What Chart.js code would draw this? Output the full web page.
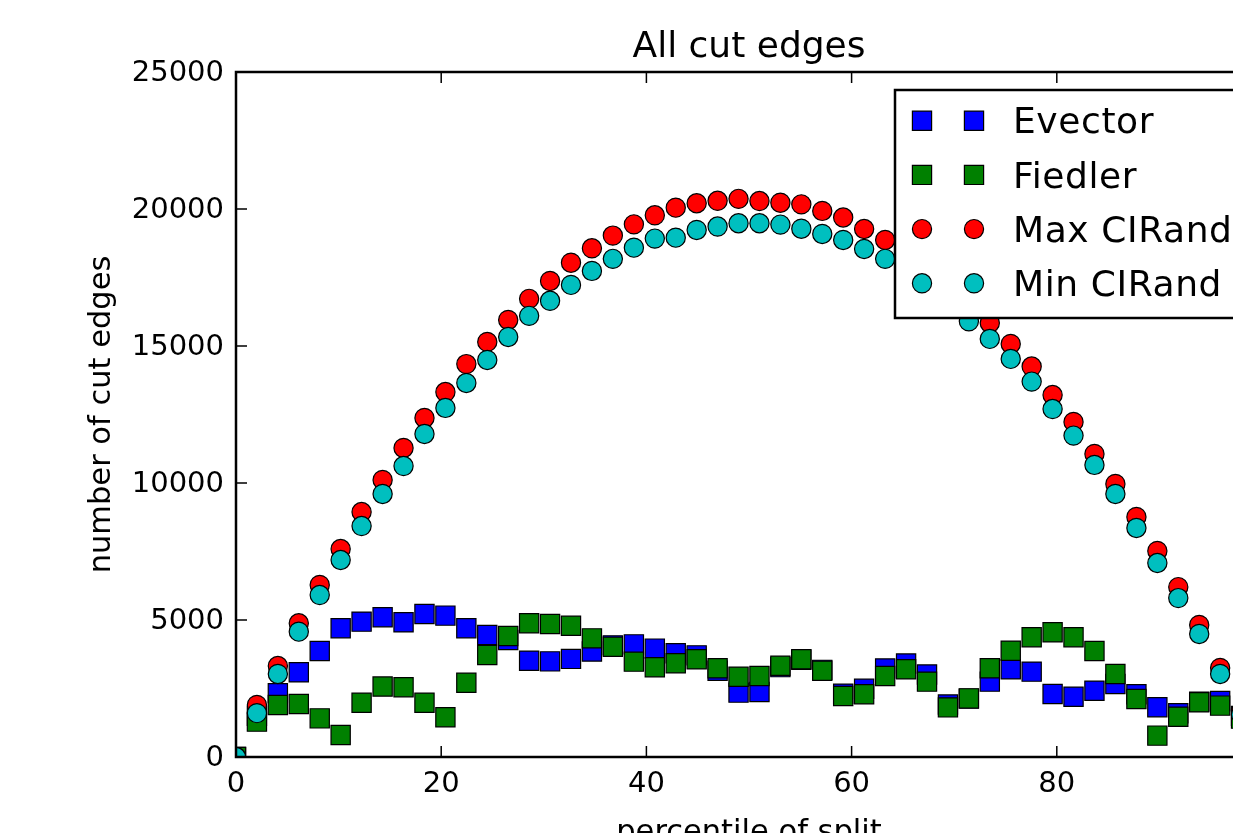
<!DOCTYPE html>
<html>
<head>
<meta charset="utf-8">
<title>All cut edges</title>
<script src="https://cdn.jsdelivr.net/npm/chart.js@4.4.1/dist/chart.umd.min.js"></script>
<style>
  html, body { margin: 0; padding: 0; background: #fff; overflow: hidden; }
  #wrap { width: 1300px; height: 860px; }
</style>
</head>
<body>
<div id="wrap"><canvas id="cut-edges-chart" width="1300" height="860"></canvas></div>
<script>
// percentile of split (50 splits from 0 to 100)
const percentiles = [0, 2.04, 4.08, 6.12, 8.16, 10.2, 12.24, 14.29, 16.33, 18.37,
    20.41, 22.45, 24.49, 26.53, 28.57, 30.61, 32.65, 34.69, 36.73, 38.78,
    40.82, 42.86, 44.9, 46.94, 48.98, 51.02, 53.06, 55.1, 57.14, 59.18,
    61.22, 63.27, 65.31, 67.35, 69.39, 71.43, 73.47, 75.51, 77.55, 79.59,
    81.63, 83.67, 85.71, 87.76, 89.8, 91.84, 93.88, 95.92, 97.96, 100];

const evector = [0, 1500, 2330, 3090, 3870, 4700, 4940, 5100, 4915, 5220,
    5160, 4700, 4450, 4270, 3515, 3490, 3580, 3850, 4075, 4110,
    3955, 3785, 3710, 3150, 2350, 2370, 3280, 3550, 3180, 2310,
    2490, 3230, 3410, 3010, 1915, 2130, 2750, 3200, 3115, 2300,
    2200, 2420, 2665, 2290, 1815, 1600, 2020, 2045, 1500, 0];

const fiedler = [0, 1290, 1900, 1935, 1410, 800, 1980, 2570, 2545, 1980,
    1450, 2710, 3720, 4415, 4880, 4855, 4790, 4330, 4025, 3480,
    3275, 3420, 3565, 3240, 2930, 2955, 3330, 3565, 3150, 2225,
    2290, 2955, 3200, 2750, 1810, 2140, 3240, 3880, 4370, 4550,
    4370, 3870, 3030, 2120, 780, 1470, 2000, 1875, 1400, 0];

const maxCIRand = [0, 1900, 3320, 4880, 6280, 7590, 8940, 10110, 11280, 12375,
    13320, 14340, 15150, 15950, 16720, 17375, 18040, 18565, 19030, 19440,
    19770, 20050, 20210, 20300, 20370, 20290, 20230, 20170, 19930, 19690,
    19270, 18870, 18400, 17900, 17250, 16550, 15840, 15075, 14250, 13210,
    12230, 11060, 9965, 8760, 7520, 6200, 4820, 3250, 1650, 0];

const minCIRand = [0, 1600, 3030, 4575, 5910, 7190, 8430, 9600, 10620, 11790,
    12740, 13650, 14490, 15330, 16100, 16650, 17230, 17740, 18180, 18590,
    18920, 18955, 19235, 19360, 19480, 19480, 19430, 19280, 19090, 18870,
    18540, 18180, 17650, 17100, 16500, 15900, 15260, 14530, 13700, 12700,
    11730, 10660, 9600, 8360, 7080, 5800, 4490, 3030, 1550, 0];

const xTicks = [0, 20, 40, 60, 80, 100];
const yTicks = [0, 5000, 10000, 15000, 20000, 25000];

Chart.defaults.font.family = "'DejaVu Sans', sans-serif";
Chart.defaults.color = '#000';

function toPoints(values) {
    return values.map((v, i) => ({ x: percentiles[i], y: v }));
}

// marcas hacia dentro y marco del eje (estilo matplotlib)
const frameAndTicks = {
    id: 'frameAndTicks',
    afterDatasetsDraw(chart) {
        const { ctx, chartArea: a, scales: { x, y } } = chart;
        ctx.save();
        ctx.strokeStyle = '#000';
        ctx.lineWidth = 1.5;
        ctx.beginPath();
        x.ticks.forEach(t => {
            const px = x.getPixelForValue(t.value);
            ctx.moveTo(px, a.bottom); ctx.lineTo(px, a.bottom - 11);
            ctx.moveTo(px, a.top); ctx.lineTo(px, a.top + 11);
        });
        y.ticks.forEach(t => {
            const py = y.getPixelForValue(t.value);
            ctx.moveTo(a.left, py); ctx.lineTo(a.left + 11, py);
            ctx.moveTo(a.right, py); ctx.lineTo(a.right - 11, py);
        });
        ctx.stroke();
        ctx.lineWidth = 2.5;
        ctx.strokeRect(a.left, a.top, a.right - a.left, a.bottom - a.top);
        ctx.restore();
    }
};

// leyenda con dos marcadores por entrada
const pairLegend = {
    id: 'pairLegend',
    afterDraw(chart) {
        const { ctx, chartArea: a } = chart;
        const left = a.right - 367, top = a.top + 18;
        const right = a.right - 17, bottom = top + 228;
        ctx.save();
        ctx.fillStyle = '#fff';
        ctx.fillRect(left, top, right - left, bottom - top);
        ctx.strokeStyle = '#000';
        ctx.lineWidth = 2.5;
        ctx.strokeRect(left, top, right - left, bottom - top);

        const items = chart.data.datasets.slice().sort((p, q) => q.order - p.order);
        items.forEach((ds, k) => {
            const cy = top + 30.7 + k * 54.2;
            [left + 27, left + 79].forEach(cx => {
                ctx.beginPath();
                if (ds.pointStyle === 'rect') {
                    ctx.rect(cx - 9.6, cy - 9.6, 19.2, 19.2);
                } else {
                    ctx.arc(cx, cy, 9.6, 0, Math.PI * 2);
                }
                ctx.fillStyle = ds.backgroundColor;
                ctx.fill();
                ctx.lineWidth = 1.2;
                ctx.strokeStyle = '#000';
                ctx.stroke();
            });
            ctx.fillStyle = '#000';
            ctx.font = "36px 'DejaVu Sans'";
            ctx.letterSpacing = '0.6px';
            ctx.textBaseline = 'alphabetic';
            ctx.textAlign = 'left';
            ctx.fillText(ds.label, left + 118, cy + 12.7);
        });
        ctx.restore();
    }
};

function series(label, data, color, style, radius, order) {
    return {
        label: label,
        data: toPoints(data),
        backgroundColor: color,
        borderColor: '#000',
        borderWidth: 1.2,
        pointStyle: style,
        pointRadius: radius,
        pointHoverRadius: radius,
        order: order,
        clip: 0
    };
}

const config = {
    type: 'scatter',
    data: {
        datasets: [
            series('Evector', evector, '#0000ff', 'rect', 13.6, 4),
            series('Fiedler', fiedler, '#008000', 'rect', 13.6, 3),
            series('Max CIRand', maxCIRand, '#ff0000', 'circle', 9.6, 2),
            series('Min CIRand', minCIRand, '#00bfbf', 'circle', 9.6, 1)
        ]
    },
    options: {
        responsive: false,
        animation: false,
        devicePixelRatio: 1,
        layout: { padding: { left: 0, right: 38, top: 0, bottom: 0 } },
        plugins: {
            legend: { display: false },
            tooltip: { enabled: false },
            title: {
                display: true,
                text: 'All cut edges',
                fullSize: false,
                font: { size: 36, weight: 'normal' },
                color: '#000',
                padding: { top: 26, bottom: 2.8 }
            }
        },
        scales: {
            x: {
                type: 'linear',
                min: 0,
                max: 100,
                grid: { display: false, drawTicks: false },
                border: { display: false },
                afterBuildTicks: s => { s.ticks = xTicks.map(v => ({ value: v })); },
                afterFit: s => { s.height = 103; },
                ticks: {
                    font: { size: 29 },
                    color: '#000',
                    padding: 10,
                    maxRotation: 0,
                    callback: v => String(v)
                },
                title: {
                    display: true,
                    text: 'percentile of split',
                    font: { size: 30.5 },
                    color: '#000',
                    padding: { top: 0, bottom: 9 }
                }
            },
            y: {
                type: 'linear',
                min: 0,
                max: 25000,
                grid: { display: false, drawTicks: false },
                border: { display: false },
                afterBuildTicks: s => { s.ticks = yTicks.map(v => ({ value: v })); },
                afterFit: s => { s.width = 236; },
                ticks: {
                    font: { size: 29 },
                    color: '#000',
                    padding: 12,
                    labelOffset: 1,
                    callback: v => String(v)
                },
                title: {
                    display: true,
                    text: 'number of cut edges',
                    font: { size: 30.5 },
                    color: '#000',
                    padding: { top: 84, bottom: 0 }
                }
            }
        }
    },
    plugins: [frameAndTicks, pairLegend]
};

const ctx = document.getElementById('cut-edges-chart').getContext('2d');
new Chart(ctx, config);
</script>
</body>
</html>
